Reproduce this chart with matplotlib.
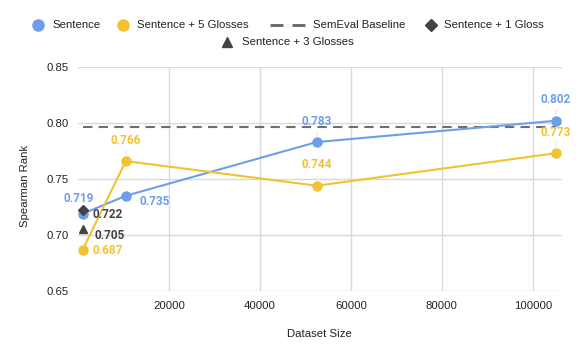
import matplotlib
matplotlib.use('Agg')
from matplotlib import pyplot as plt
from matplotlib.lines import Line2D

sizes = [1050, 10500, 52500, 105000]
sentence = [0.719, 0.735, 0.783, 0.802]
glosses5 = [0.687, 0.766, 0.744, 0.773]
baseline = [0.796, 0.796, 0.796, 0.796]
gloss1_x, gloss1_y = [1050], [0.722]
gloss3_x, gloss3_y = [1050], [0.705]
legend_labels = ['Sentence', 'Sentence + 5 Glosses', 'SemEval Baseline',
                 'Sentence + 1 Gloss', 'Sentence + 3 Glosses']

blue = '#6d9eeb'
yellow = '#f1c232'
gray = '#6f6f6f'
dark = '#434343'
txt = '#222222'
W, H = 581, 360

plt.rcParams['font.family'] = ['Liberation Sans', 'DejaVu Sans']

fig = plt.figure(figsize=(W / 100, H / 100), dpi=100)
ax = fig.add_axes([78 / W, 1 - 291 / H, (562 - 78) / W, (291 - 67) / H])

ax.plot(sizes, baseline, color=gray, lw=1.5, ls=(0, (4.5, 3)), zorder=2)
ax.plot(sizes, sentence, color=blue, lw=1.5, marker='o', ms=6.5, zorder=3)
ax.plot(sizes, glosses5, color=yellow, lw=1.5, marker='o', ms=6.5, zorder=3)
ax.plot(gloss1_x, gloss1_y, ls='none', marker='D', ms=5, color=dark, zorder=4)
ax.plot(gloss3_x, gloss3_y, ls='none', marker='^', ms=5.5, color=dark, zorder=4)

lab = dict(fontfamily='Roboto', fontweight='bold', fontsize=8.5,
           textcoords='offset pixels', va='center')
lead = dict(arrowstyle='-', color='#e3e3e3', lw=0.8, shrinkA=1, shrinkB=5)

# sentence labels
ax.annotate('%.3f' % sentence[0], (sizes[0], sentence[0]), xytext=(-4, 15), ha='center', color=blue, **lab)
ax.annotate('%.3f' % sentence[1], (sizes[1], sentence[1]), xytext=(14, -6), ha='left', color=blue, **lab)
for i in [2, 3]:
    ax.annotate('%.3f' % sentence[i], (sizes[i], sentence[i]), xytext=(0, 21), ha='center',
                color=blue, arrowprops=lead, **lab)

# 5 glosses labels
ax.annotate('%.3f' % glosses5[0], (sizes[0], glosses5[0]), xytext=(10, -1), ha='left', color=yellow, **lab)
for i in [1, 2, 3]:
    ax.annotate('%.3f' % glosses5[i], (sizes[i], glosses5[i]), xytext=(0, 21), ha='center',
                color=yellow, arrowprops=lead, **lab)

ax.annotate('%.3f' % gloss1_y[0], (gloss1_x[0], gloss1_y[0]), xytext=(10, -4), ha='left', color=dark, **lab)
ax.annotate('%.3f' % gloss3_y[0], (gloss3_x[0], gloss3_y[0]), xytext=(12, -6), ha='left', color=dark, **lab)

ax.set_xlim(0, 106400)
ax.set_ylim(0.65, 0.85)
ax.set_xticks([20000, 40000, 60000, 80000, 100000])
ax.set_yticks([0.65, 0.70, 0.75, 0.80, 0.85])
ax.set_yticklabels(['0.65', '0.70', '0.75', '0.80', '0.85'])
ax.grid(True, color='#d9d9d9', lw=1)
ax.set_axisbelow(True)
for s in ax.spines.values():
    s.set_visible(False)
ax.tick_params(length=0, labelsize=8.2, colors=txt, pad=7)
ax.set_xlabel('Dataset Size', fontsize=8.2, color=txt)
ax.set_ylabel('Spearman Rank', fontsize=8.2, color=txt)
ax.xaxis.set_label_coords((319 - 78) / 484, (291 - 334) / 224)
ax.yaxis.set_label_coords((25 - 78) / 484, (291 - 186) / 224)
ax.xaxis.label.set_va('center')
ax.yaxis.label.set_va('center')


# legend drawn in figure pixel space
def fx(px):
    return px / W


def fy(py):
    return 1 - py / H


def legend_item(mx, tx, y, label, **style):
    fig.add_artist(Line2D([fx(mx)], [fy(y)], ls='none', **style))
    fig.text(fx(tx), fy(y), label, fontsize=8.2, color=txt, va='center', ha='left')


legend_item(38, 52, 25, legend_labels[0], marker='o', ms=8, color=blue)
legend_item(123, 137, 25, legend_labels[1], marker='o', ms=8, color=yellow)
fig.add_artist(Line2D([fx(270), fx(305)], [fy(25), fy(25)], color=gray, lw=3 * 0.72,
                      ls=(0, (13 / 3, 9 / 3))))
fig.text(fx(313), fy(25), legend_labels[2], fontsize=8.2, color=txt, va='center', ha='left')
legend_item(431, 444, 25, legend_labels[3], marker='D', ms=6.5, color=dark)
legend_item(227, 242, 42, legend_labels[4], marker='^', ms=7.5, color=dark)

fig.savefig('out.png', dpi=100)
